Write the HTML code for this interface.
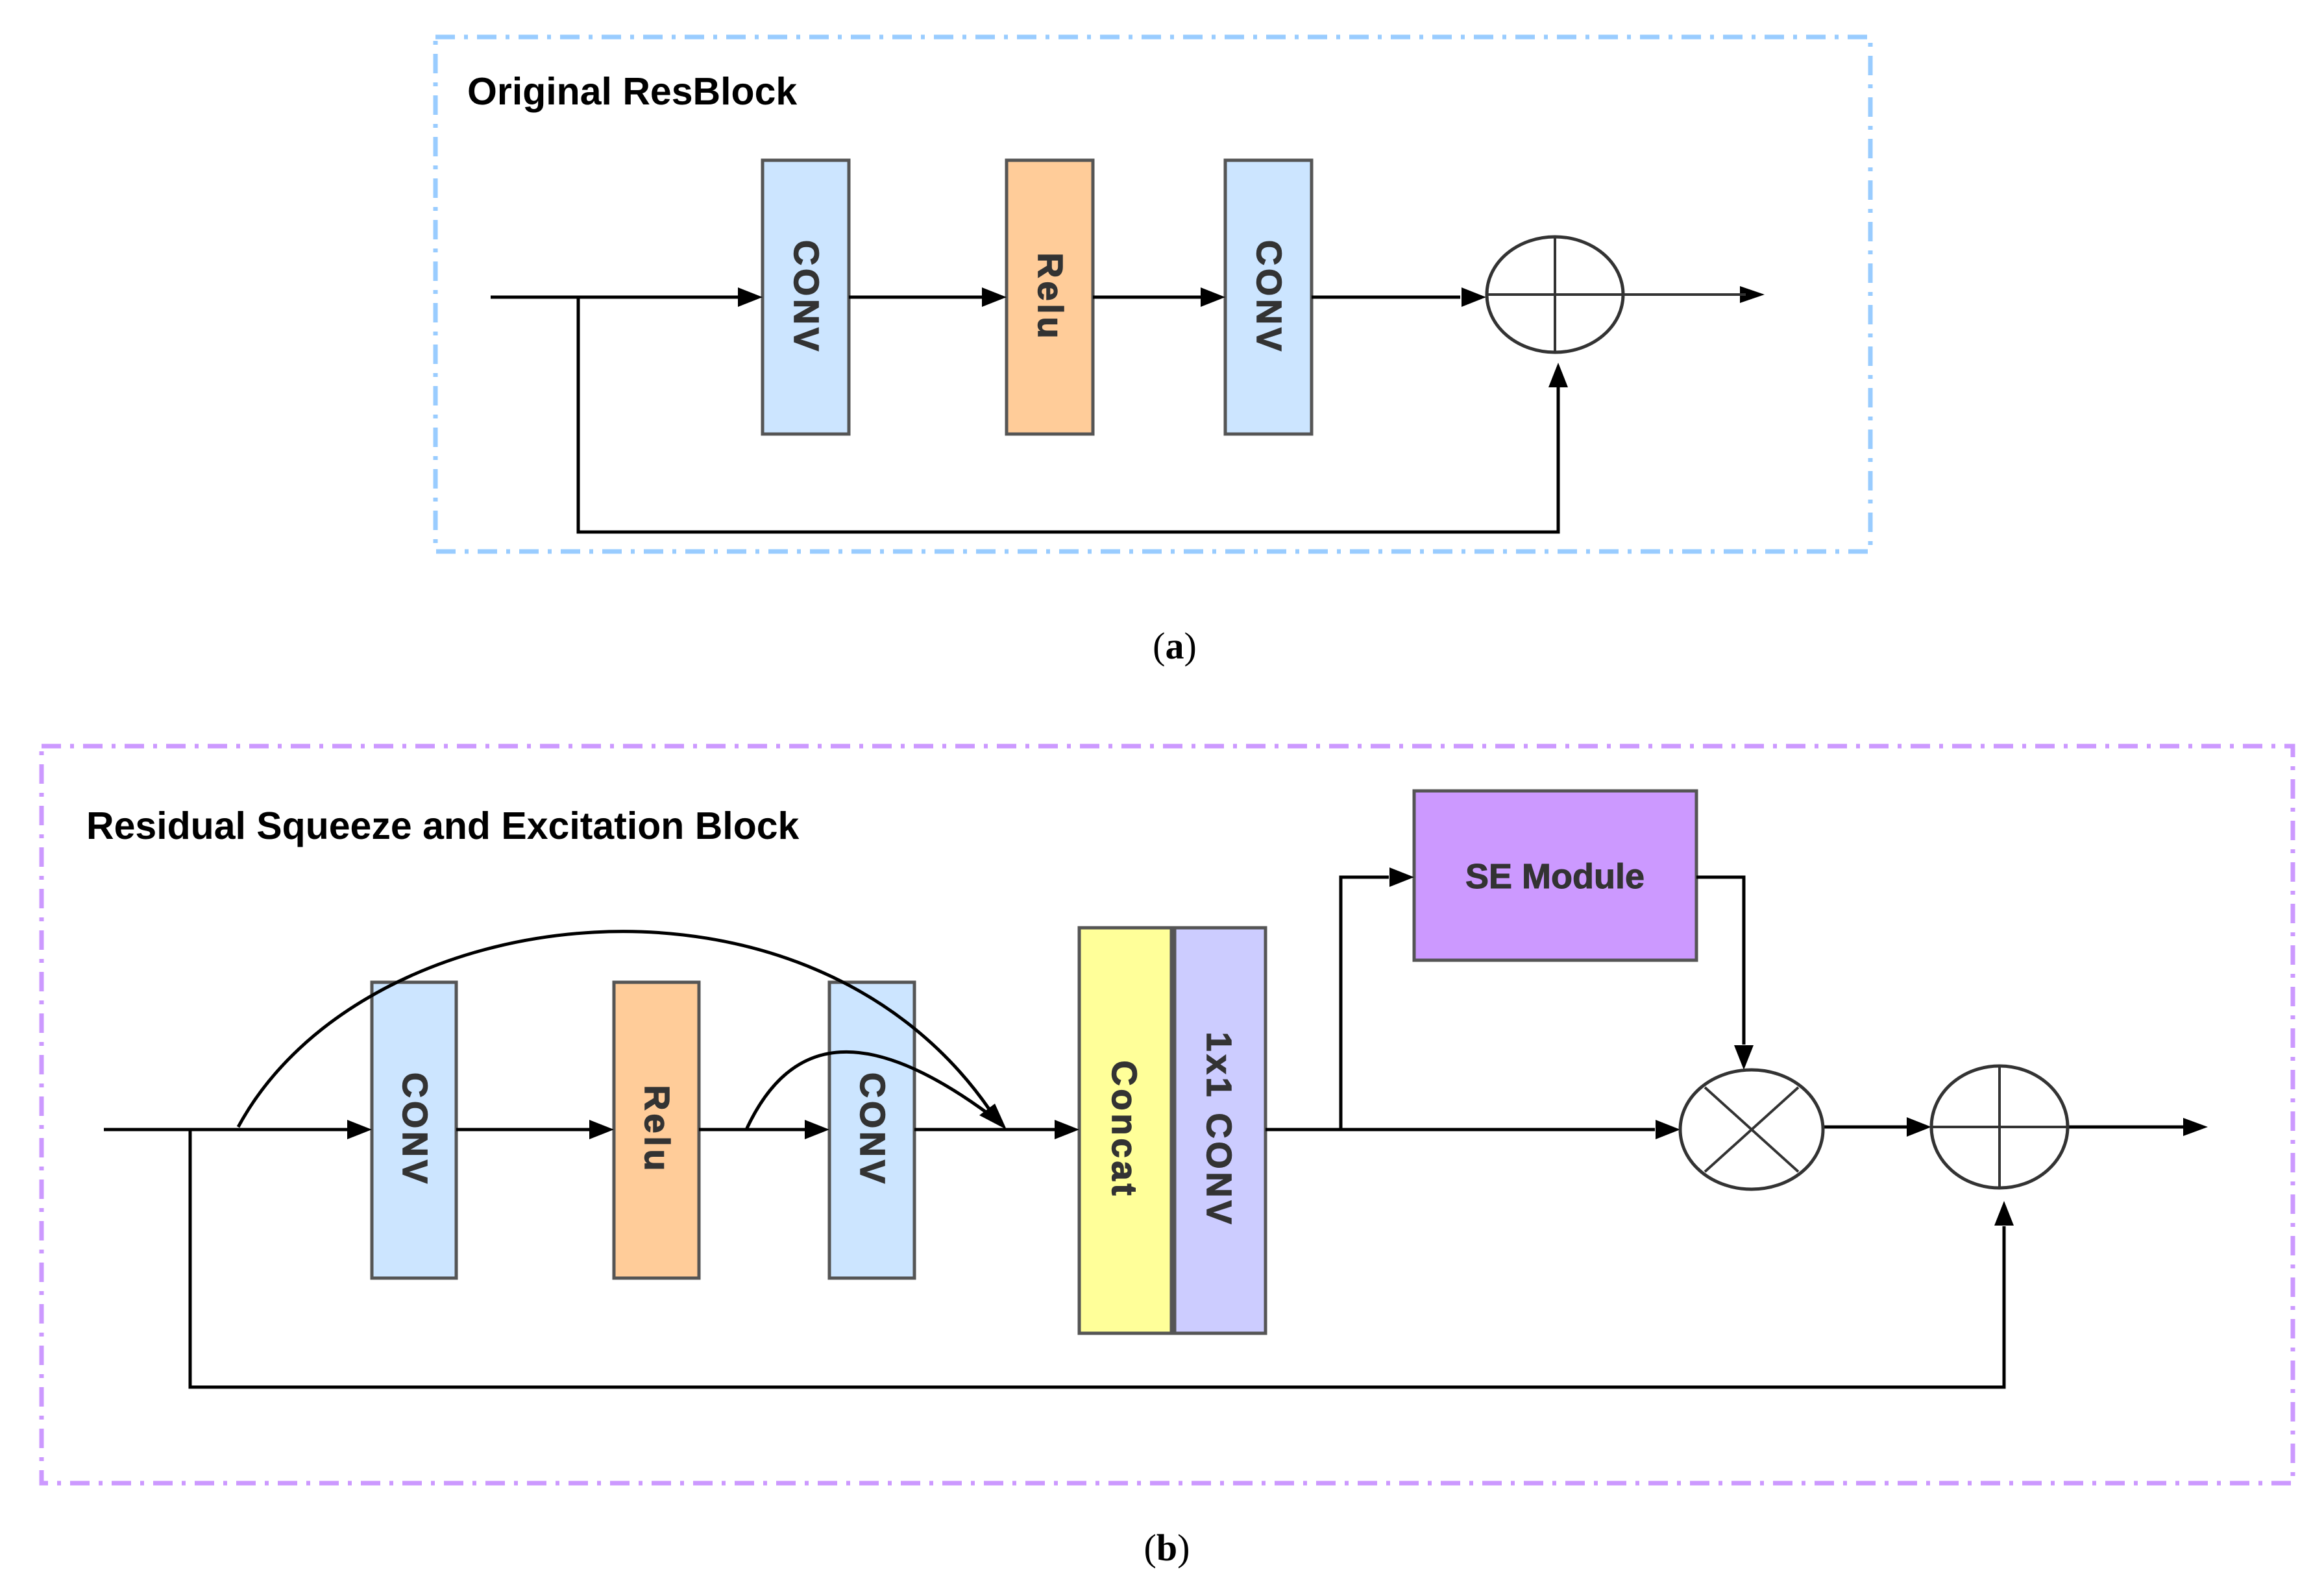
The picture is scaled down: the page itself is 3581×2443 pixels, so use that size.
<!DOCTYPE html>
<html><head><meta charset="utf-8"><style>html,body{margin:0;padding:0;background:#fff}svg{display:block}</style></head><body>
<svg width="3581" height="2443" viewBox="0 0 3581 2443" xmlns="http://www.w3.org/2000/svg" font-family="Liberation Sans, sans-serif">
<style>
.box{stroke:#555;stroke-width:5}
.ln{stroke:#000;stroke-width:5;fill:none}
.lb{font-weight:bold;font-size:54px;fill:#333;letter-spacing:5px;stroke:#333;stroke-width:1.5}
</style>
<!-- (a) -->
<rect x="671" y="57" width="2211" height="793" fill="none" stroke="#99ccff" stroke-width="7" stroke-dasharray="30,14,6,14"/>
<text x="720" y="161" font-size="59" font-weight="bold">Original ResBlock</text>
<rect class="box" x="1175" y="247" width="133" height="422" fill="#cce5ff"/>
<rect class="box" x="1551" y="247" width="133" height="422" fill="#ffcc99"/>
<rect class="box" x="1888" y="247" width="133" height="422" fill="#cce5ff"/>
<text class="lb" transform="translate(1224,458) rotate(90)" text-anchor="middle">CONV</text>
<text class="lb" transform="translate(1600,458) rotate(90)" text-anchor="middle">Relu</text>
<text class="lb" transform="translate(1937,458) rotate(90)" text-anchor="middle">CONV</text>
<path class="ln" d="M756 458H1140 M1308 458H1516 M1684 458H1853 M2021 458H2250 M891 458V820H2401V595"/>
<path d="M1175 458l-38 -15v30z M1551 458l-38 -15v30z M1888 458l-38 -15v30z M2290 458l-38 -15v30z M2401 559l-15 38h30z M2719 454l-38 -13v26z" fill="#000"/>
<ellipse cx="2396" cy="454" rx="105" ry="89" fill="none" stroke="#333" stroke-width="5"/>
<path d="M2396 365V543 M2291 454H2690" stroke="#333" stroke-width="4" fill="none"/>
<text x="1810" y="1015" font-family="Liberation Serif, serif" font-size="58" text-anchor="middle">(<tspan font-weight="bold">a</tspan>)</text>
<!-- (b) -->
<rect x="64" y="1150" width="3469" height="1136" fill="none" stroke="#cc99ff" stroke-width="7" stroke-dasharray="30,14,6,14"/>
<text x="133" y="1293" font-size="59" font-weight="bold">Residual Squeeze and Excitation Block</text>
<rect class="box" x="573" y="1514" width="130" height="456" fill="#cce5ff"/>
<rect class="box" x="946" y="1514" width="131" height="456" fill="#ffcc99"/>
<rect class="box" x="1278" y="1514" width="131" height="456" fill="#cce5ff"/>
<rect class="box" x="1663" y="1430" width="142" height="625" fill="#ffff99"/>
<rect class="box" x="1810" y="1430" width="140" height="625" fill="#ccccff"/>
<rect class="box" x="2179" y="1219" width="435" height="261" fill="#cc99ff"/>
<text class="lb" transform="translate(621,1741) rotate(90)" text-anchor="middle">CONV</text>
<text class="lb" transform="translate(994,1741) rotate(90)" text-anchor="middle">Relu</text>
<text class="lb" transform="translate(1326,1741) rotate(90)" text-anchor="middle">CONV</text>
<text class="lb" transform="translate(1714,1741) rotate(90)" text-anchor="middle">Concat</text>
<text class="lb" transform="translate(1860,1741) rotate(90)" text-anchor="middle">1x1 CONV</text>
<text x="2396" y="1369" font-size="54" font-weight="bold" fill="#333" stroke="#333" stroke-width="1" text-anchor="middle">SE Module</text>
<path class="ln" d="M160 1741H540 M703 1741H912 M1077 1741H1243 M1409 1741H1628 M1950 1741H2066V1352H2140 M2066 1741H2550 M2614 1352H2687V1610 M2809 1737H2940 M3186 1737H3370 M293 1741V2138H3088V1890"/>
<path class="ln" d="M367 1737 C560 1380 1250 1300 1530 1718"/>
<path class="ln" d="M1150 1741 C1220 1590 1340 1580 1530 1722"/>
<path d="M573 1741l-38 -15v30z M946 1741l-38 -15v30z M1278 1741l-38 -15v30z M1663 1741l-38 -15v30z M2179 1352l-38 -15v30z M2589 1741l-38 -15v30z M2687 1649l-15 -38h30z M2976 1737l-38 -15v30z M3402 1737l-38 -14v28z M3088 1851l-15 38h30z M1551 1741l-42 -22 24 -18z" fill="#000"/>
<ellipse cx="2699" cy="1741" rx="110" ry="92" fill="none" stroke="#333" stroke-width="5"/>
<path d="M2627 1676L2771 1806 M2771 1676L2627 1806" stroke="#333" stroke-width="4"/>
<ellipse cx="3081" cy="1737" rx="105" ry="94" fill="none" stroke="#333" stroke-width="5"/>
<path d="M3081 1643V1831 M2976 1737H3186" stroke="#333" stroke-width="4"/>
<text x="1798" y="2405" font-family="Liberation Serif, serif" font-size="58" text-anchor="middle">(<tspan font-weight="bold">b</tspan>)</text>
</svg>
</body></html>
